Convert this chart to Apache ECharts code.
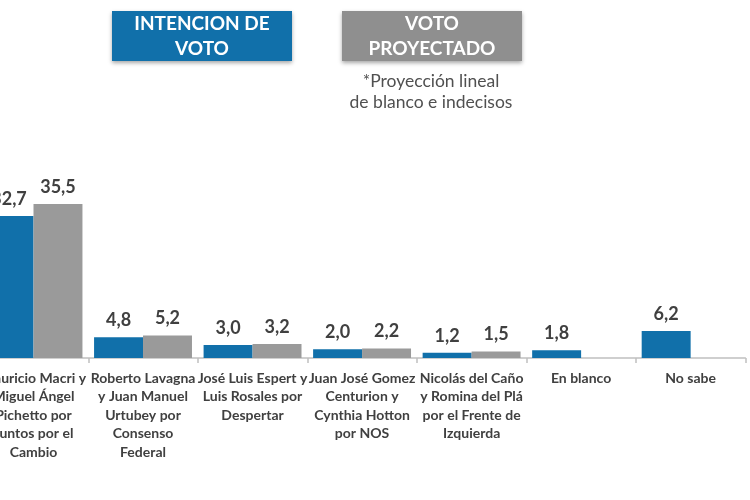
<!DOCTYPE html>
<html>
<head>
<meta charset="utf-8">
<script src="https://cdn.jsdelivr.net/npm/echarts@6/dist/echarts.min.js"></script>
<style>
html,body{margin:0;padding:0;background:#fff;overflow:hidden;width:750px;height:500px;position:relative;}
#c{position:absolute;left:-22px;top:0;width:771px;height:500px;}
</style>
</head>
<body>
<div id="c"></div>
<script>
const categories = [
  "Mauricio Macri y\nMiguel Ángel\nPichetto por\nJuntos por el\nCambio",
  "Roberto Lavagna\ny Juan Manuel\nUrtubey por\nConsenso\nFederal",
  "José Luis Espert y\nLuis Rosales por\nDespertar",
  "Juan José Gomez\nCenturion y\nCynthia Hotton\npor NOS",
  "Nicolás del Caño\ny Romina del Plá\npor el Frente de\nIzquierda",
  "En blanco",
  "No sabe"
];
const intencionVoto = [32.7, 4.8, 3.0, 2.0, 1.2, 1.8, 6.2];
const votoProyectado = [35.5, 5.2, 3.2, 2.2, 1.5, null, null];
const seriesNames = ["INTENCION DE\nVOTO", "VOTO\nPROYECTADO"];
const noteText = "*Proyección lineal\nde blanco e indecisos";

const BLUE = '#1170aa';
const GRAY = '#9a9a9a';
const FONT = 'Lato, "Open Sans", sans-serif';
const OX = 22; // container offset

const chart = echarts.init(document.getElementById('c'));
const valueLabel = {
  show: true, position: 'top', distance: 8,
  fontFamily: FONT, fontWeight: 'bold', fontSize: 18, color: '#404040',
  formatter: p => p.value == null ? '' : Number(p.value).toFixed(1).replace('.', ',')
};
chart.setOption({
  animation: false,
  backgroundColor: '#ffffff',
  grid: { left: 0.4, right: 3.6, top: 184.4, bottom: 142, containLabel: false },
  xAxis: {
    type: 'category',
    data: categories,
    axisLine: { show: true, lineStyle: { color: '#c0c0c0', width: 1.5 } },
    axisTick: { show: true, length: 5, lineStyle: { color: '#c0c0c0', width: 1.5 } },
    axisLabel: {
      interval: 0, margin: 11, fontFamily: FONT, fontWeight: 'bold',
      fontSize: 14, lineHeight: 18.5, color: '#404040', align: 'center'
    }
  },
  yAxis: {
    type: 'value', min: 0, max: 40, show: false,
    splitLine: { show: false }
  },
  series: [
    { name: seriesNames[0], type: 'bar', data: intencionVoto,
      itemStyle: { color: BLUE }, barGap: '0%', barCategoryGap: '10.6%', label: valueLabel },
    { name: seriesNames[1], type: 'bar', data: votoProyectado,
      itemStyle: { color: GRAY }, label: valueLabel }
  ],
  graphic: [
    { type: 'rect', shape: { x: 112 + OX, y: 11, width: 180, height: 50 },
      style: { fill: BLUE, shadowBlur: 4, shadowOffsetY: 2, shadowColor: 'rgba(0,0,0,0.35)' } },
    { type: 'text', x: 202 + OX, y: 36,
      style: { text: seriesNames[0], fill: '#fff', font: 'bold 19px ' + FONT,
        align: 'center', verticalAlign: 'middle', lineHeight: 25 } },
    { type: 'rect', shape: { x: 342 + OX, y: 11, width: 180, height: 50 },
      style: { fill: '#8f8f8f', shadowBlur: 4, shadowOffsetY: 2, shadowColor: 'rgba(0,0,0,0.35)' } },
    { type: 'text', x: 432 + OX, y: 36,
      style: { text: seriesNames[1], fill: '#fff', font: 'bold 19px ' + FONT,
        align: 'center', verticalAlign: 'middle', lineHeight: 25 } },
    { type: 'text', x: 431 + OX, y: 92,
      style: { text: noteText, fill: '#505050', font: '17.5px ' + FONT,
        align: 'center', verticalAlign: 'middle', lineHeight: 21 } }
  ]
});
</script>
</body>
</html>
